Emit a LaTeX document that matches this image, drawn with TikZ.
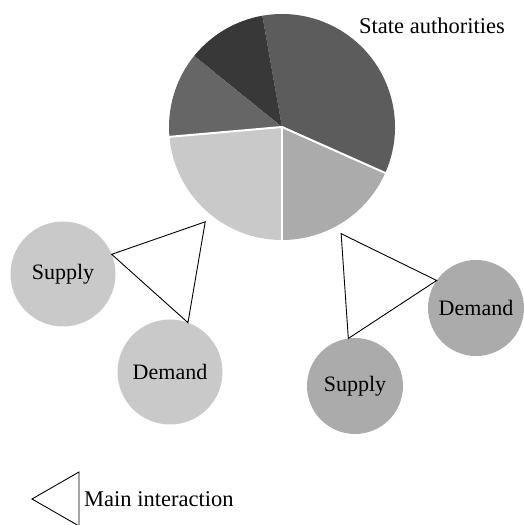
\documentclass[tikz,border=0pt]{standalone}
\usepackage{fontspec}
\setmainfont{Liberation Serif}
\usetikzlibrary{calc}

\begin{document}
\begin{tikzpicture}[
  x=1pt, y=1pt,
  lbl/.style   = {font=\fontsize{22.5}{26}\selectfont, inner sep=1pt},
  actor/.style = {circle, inner sep=0pt, outer sep=0pt, font=\fontsize{22}{26}\selectfont},
  light/.style = {actor, fill=black!21, minimum size=105pt},
  mid/.style   = {actor, fill=black!33, minimum size=96pt},
  link/.style  = {line width=0.9pt, line join=miter},
  gap/.style   = {white, line width=2pt}
]
\useasboundingbox (0,0) rectangle (524,525);

%--------------------------------------------------
% State authorities (pie)
%--------------------------------------------------
\node[circle, minimum size=226pt, inner sep=0pt, outer sep=9pt] (pie) at (282,398) {};

\fill[black!21] (pie.center) -- ++(185:113) arc[start angle=185, end angle=270, radius=113] -- cycle;
\fill[black!33] (pie.center) -- ++(270:113) arc[start angle=270, end angle=336, radius=113] -- cycle;
\fill[black!64] (pie.center) -- ++(-24:113) arc[start angle=-24, end angle=100, radius=113] -- cycle;
\fill[black!78] (pie.center) -- ++(100:113) arc[start angle=100, end angle=141, radius=113] -- cycle;
\fill[black!60] (pie.center) -- ++(141:113) arc[start angle=141, end angle=185, radius=113] -- cycle;

% white cuts round the two light sectors
\draw[gap] (pie.center) -- ++(185:114);
\draw[gap] (pie.center) -- ++(-24:114);
\draw[gap, line width=1.2pt] (pie.center) -- ++(270:114);

\node[lbl] (stateLbl) at (432,499) {State authorities};

%--------------------------------------------------
% Supply / demand circles
%--------------------------------------------------
\node[light] (supplyL) at (63,251) {Supply};
\node[light] (demandL) at (170,153) {Demand};

\node[mid] (supplyR) at (355,139) {Supply};
\node[mid] (demandR) at (476,217) {Demand};

%--------------------------------------------------
% Interactions (triangles)
%--------------------------------------------------
\draw[link] (supplyL.22) -- (pie.231) -- (demandL.70) -- cycle;
\draw[link] (pie.299) -- (demandR.145) -- (supplyR.98) -- cycle;

%--------------------------------------------------
% Legend
%--------------------------------------------------
\node[lbl, anchor=west] (legend) at (83,26) {Main interaction};
\draw[link] ($(legend.west)+(-4,27)$) -- ($(legend.west)+(-51,0)$)
  -- ($(legend.west)+(-4,-27)$) -- cycle;

\end{tikzpicture}
\end{document}
